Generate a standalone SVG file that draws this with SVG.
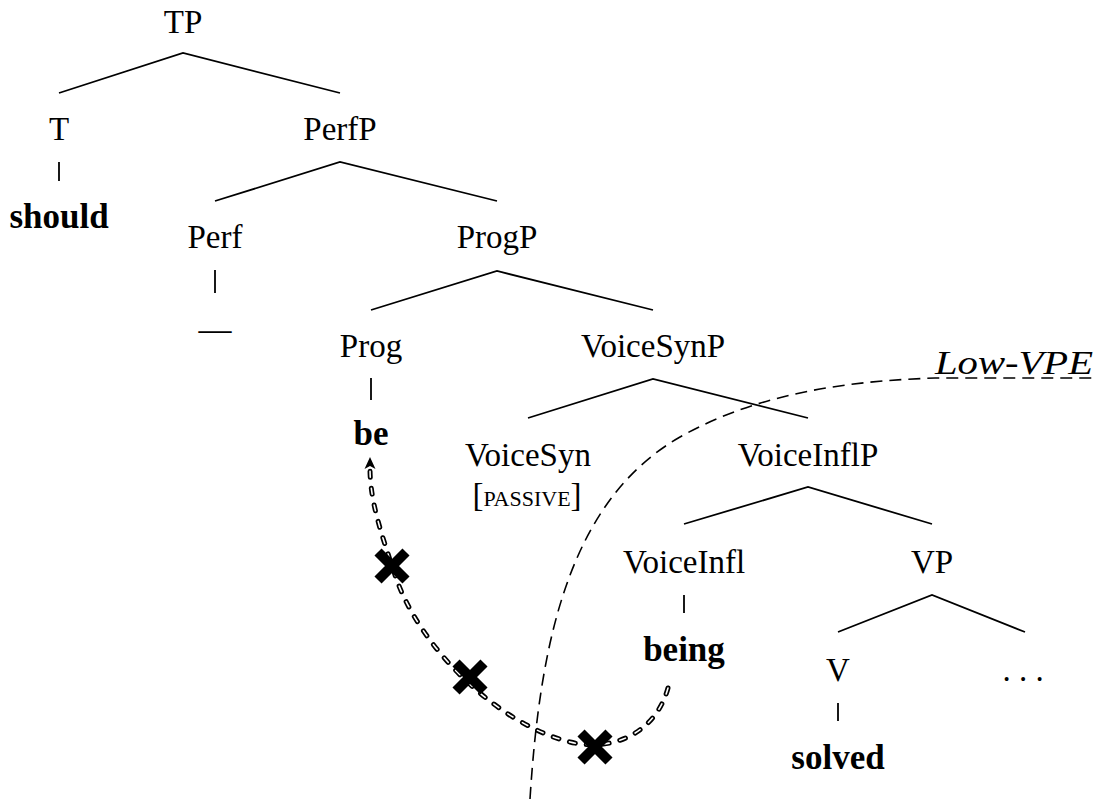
<svg xmlns="http://www.w3.org/2000/svg" width="1097" height="799" viewBox="0 0 1097 799">
<style>
text{font-family:"Liberation Serif","Times New Roman",serif;font-size:33px;fill:#000;text-anchor:middle}
.b{font-weight:bold;font-size:35px}
.e{fill:none;stroke:#000;stroke-width:1.8}
</style>
<rect width="1097" height="799" fill="#fff"/>
<g id="edges">
<path class="e" d="M59,93 L183,53 L340,93"/>
<path class="e" d="M59,162 V181"/>
<path class="e" d="M215,201 L340,162 L497,201"/>
<path class="e" d="M215,270 V293"/>
<path class="e" d="M371,310 L497,271 L653,310"/>
<path class="e" d="M371,378 V400"/>
<path class="e" d="M528,418 L653,379 L808,418"/>
<path class="e" d="M684,524 L808,487 L932,524"/>
<path class="e" d="M684,595 V613"/>
<path class="e" d="M838,632 L932,595 L1025,632"/>
<path class="e" d="M838,703 V721"/>
</g>
<g id="n-TP"><text x="183" y="33">TP</text></g>
<g id="n-T"><text x="59" y="140">T</text></g>
<g id="n-should"><text class="b" x="59" y="228">should</text></g>
<g id="n-PerfP"><text x="340" y="140">PerfP</text></g>
<g id="n-Perf"><text x="215" y="248">Perf</text></g>
<g id="n-dash"><text x="215" y="340">—</text></g>
<g id="n-ProgP"><text x="497" y="248">ProgP</text></g>
<g id="n-Prog"><text x="371" y="357">Prog</text></g>
<g id="n-be"><text class="b" x="371" y="445">be</text></g>
<g id="n-VoiceSynP"><text x="653" y="357">VoiceSynP</text></g>
<g id="n-VoiceSyn"><text x="528" y="466">VoiceSyn</text><text x="527" y="506">[<tspan font-size="22">PASSIVE</tspan>]</text></g>
<g id="n-VoiceInflP"><text x="808" y="466">VoiceInflP</text></g>
<g id="n-VoiceInfl"><text x="684" y="573">VoiceInfl</text></g>
<g id="n-being"><text class="b" x="684" y="661">being</text></g>
<g id="n-VP"><text x="932" y="573">VP</text></g>
<g id="n-V"><text x="838" y="681">V</text></g>
<g id="n-dots"><text x="1023" y="681">. . .</text></g>
<g id="n-solved"><text class="b" x="838" y="769">solved</text></g>
<g id="low-vpe">
<path d="M530,799 C540,640 570,500 680,437 C760,392 850,381 935,378 L1093,378" fill="none" stroke="#000" stroke-width="1.6" stroke-dasharray="12 7"/>
<text x="1014" y="374" font-style="italic" textLength="158" lengthAdjust="spacingAndGlyphs">Low-VPE</text>
</g>
<g id="movement">
<path d="M668,688 C655,735 610,752 570,742 C500,725 420,650 395,575 C380,530 370,500 370,468" fill="none" stroke="#000" stroke-width="5" stroke-linecap="round" stroke-dasharray="6 11"/>
<path d="M668,688 C655,735 610,752 570,742 C500,725 420,650 395,575 C380,530 370,500 370,468" fill="none" stroke="#fff" stroke-width="1.6" stroke-linecap="round" stroke-dasharray="6 11"/>
<path d="M370,457 L375.5,469 L370,466 L364.5,469 Z" fill="#000"/>
<g stroke="#000" stroke-width="10">
<path d="M378,552 L406,580 M406,552 L378,580"/>
<path d="M456,663 L484,691 M484,663 L456,691"/>
<path d="M581,733 L609,761 M609,733 L581,761"/>
</g>
</g>
</svg>
